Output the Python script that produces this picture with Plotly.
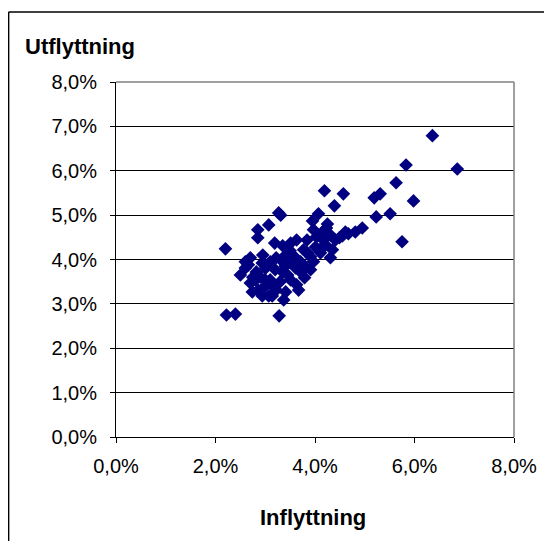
import plotly.graph_objects as go

# Inflyttning (%), Utflyttning (%)
inflyttning = [6.36, 5.83, 6.86, 5.98, 5.63, 5.75, 5.51, 5.31, 5.19, 5.23,
               4.57, 4.19, 4.39, 4.07, 3.95, 4.95, 4.81, 4.67, 4.55, 4.41,
               4.31, 4.25, 4.15, 4.03, 4.21, 4.31, 4.11, 3.97, 3.81, 3.71,
               3.63, 3.77, 3.84, 3.63, 3.51, 3.31, 3.27, 3.07, 2.85, 2.85,
               3.19, 3.35, 3.41, 2.20, 2.22, 2.40, 3.28, 3.37, 3.41, 3.51,
               2.50, 2.60, 2.60, 2.70, 2.70, 2.74, 2.82, 2.94, 2.98, 3.07,
               3.10, 3.20, 3.10, 3.22, 3.35, 3.47, 3.55, 3.35, 3.45, 2.86,
               2.94, 3.14, 3.22, 3.00, 2.80, 2.66, 3.91, 4.01, 4.17, 4.35,
               4.49, 3.71, 3.61, 3.91, 3.79, 3.67, 4.13, 4.61, 3.97, 4.23,
               2.90, 3.00, 3.30, 3.40, 2.75, 3.15, 3.50, 3.60, 3.85, 2.95]
utflyttning = [6.79, 6.13, 6.04, 5.32, 5.73, 4.40, 5.03, 5.48, 5.39, 4.96,
               5.48, 5.55, 5.21, 5.03, 4.87, 4.71, 4.62, 4.58, 4.53, 4.44,
               4.55, 4.80, 4.62, 4.51, 4.33, 4.04, 4.15, 3.95, 3.83, 3.72,
               3.43, 4.22, 4.44, 4.44, 4.37, 5.00, 5.05, 4.78, 4.67, 4.49,
               4.37, 4.31, 4.10, 4.24, 2.75, 2.77, 2.73, 3.09, 3.27, 3.54,
               3.65, 3.81, 3.95, 4.04, 3.47, 3.27, 3.72, 3.92, 3.38, 3.18,
               3.54, 3.77, 3.95, 4.04, 3.95, 4.04, 3.95, 3.72, 3.65, 3.31,
               3.18, 3.18, 3.31, 3.54, 3.54, 3.88, 4.06, 4.28, 4.44, 4.22,
               4.49, 3.95, 3.81, 3.77, 3.59, 3.31, 4.26, 4.62, 4.67, 4.71,
               3.60, 3.80, 3.50, 3.85, 3.60, 3.40, 4.20, 4.05, 4.15, 4.10]

x_tickvals = [0, 2, 4, 6, 8]
x_ticktext = ["0,0%", "2,0%", "4,0%", "6,0%", "8,0%"]
y_tickvals = [0, 1, 2, 3, 4, 5, 6, 7, 8]
y_ticktext = ["0,0%", "1,0%", "2,0%", "3,0%", "4,0%", "5,0%", "6,0%", "7,0%", "8,0%"]

FONT = "Liberation Sans, Arial, sans-serif"

fig = go.Figure()
fig.add_trace(go.Scatter(
    x=inflyttning, y=utflyttning, mode="markers",
    marker=dict(symbol="diamond", size=10.5, color="#000080", line=dict(width=0)),
    showlegend=False, hoverinfo="x+y",
))

fig.update_layout(
    width=552, height=541,
    margin=dict(l=107.5, r=46, t=74, b=112, autoexpand=False),
    paper_bgcolor="white", plot_bgcolor="white",
    font=dict(family=FONT, size=20, color="black"),
    xaxis=dict(range=[0, 8], tickvals=x_tickvals, ticktext=x_ticktext,
               showgrid=False, zeroline=False, showline=True, linecolor="black",
               linewidth=1, ticks="outside", ticklen=5, tickcolor="black",
               ticklabelstandoff=6, fixedrange=True),
    yaxis=dict(range=[0, 8], tickvals=y_tickvals, ticktext=y_ticktext,
               showgrid=True, gridcolor="black", gridwidth=1, zeroline=False,
               showline=True, linecolor="black", linewidth=1,
               ticks="outside", ticklen=5, tickcolor="black",
               ticklabelstandoff=9, fixedrange=True),
    shapes=[
        # plot area top and right border (gray)
        dict(type="line", xref="paper", yref="paper", x0=0, x1=1, y0=1, y1=1,
             line=dict(color="#808080", width=1.5)),
        dict(type="line", xref="paper", yref="paper", x0=1, x1=1, y0=0, y1=1,
             line=dict(color="#808080", width=1.5)),
        # outer chart frame: only top and left edges are visible
        dict(type="line", xref="paper", yref="paper",
             x0=-0.2698, x1=1.2, y0=1.197, y1=1.197,
             line=dict(color="black", width=1.5)),
        dict(type="line", xref="paper", yref="paper",
             x0=-0.2698, x1=-0.2698, y0=-0.35, y1=1.197,
             line=dict(color="black", width=1.5)),
    ],
    annotations=[
        dict(text="<b>Utflyttning</b>", xref="paper", yref="paper",
             x=-0.2346, y=1.0986, xanchor="left", yanchor="middle",
             showarrow=False, font=dict(family=FONT, size=22, color="black")),
        dict(text="<b>Inflyttning</b>", xref="paper", yref="paper",
             x=0.4956, y=-0.228, xanchor="center", yanchor="middle",
             showarrow=False, font=dict(family=FONT, size=22, color="black")),
    ],
)

fig.write_html("out.html")
